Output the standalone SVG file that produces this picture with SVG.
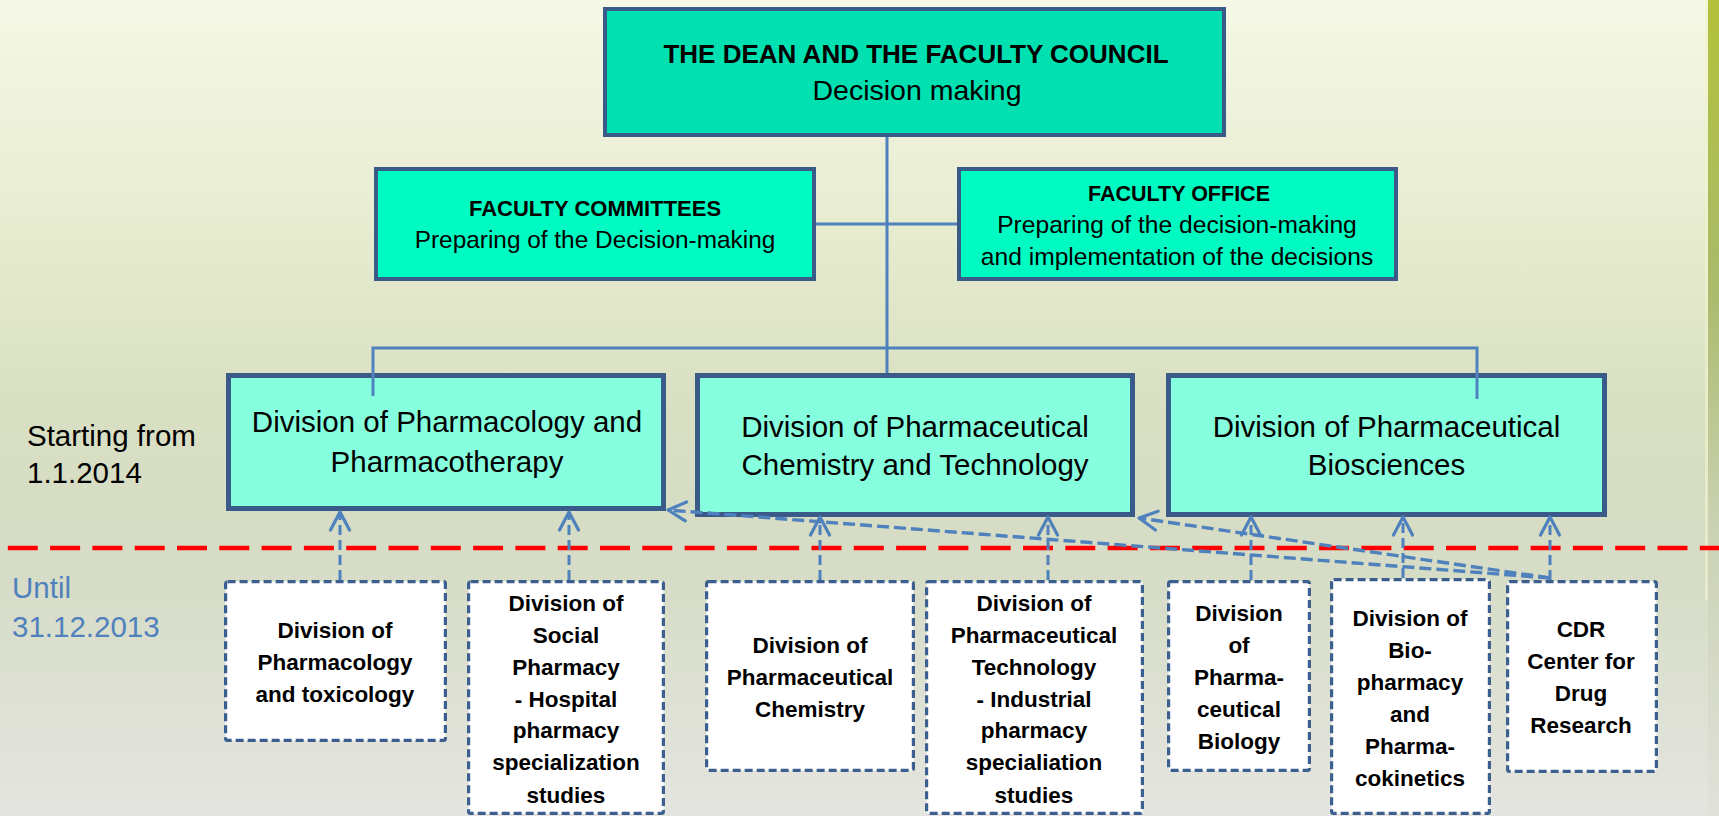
<svg xmlns="http://www.w3.org/2000/svg" width="1719" height="816" viewBox="0 0 1719 816">
<defs>
<linearGradient id="bg" x1="0" y1="0" x2="0" y2="1">
<stop offset="0" stop-color="#F5F8E6"/>
<stop offset="0.3" stop-color="#E6EBCF"/>
<stop offset="0.5" stop-color="#D8DFC2"/>
<stop offset="0.7" stop-color="#D6DCC6"/>
<stop offset="1" stop-color="#E4E5E0"/>
</linearGradient>
<linearGradient id="bar" x1="0" y1="0" x2="0" y2="1">
<stop offset="0" stop-color="#B2C23A"/>
<stop offset="0.35" stop-color="#AABA6A"/>
<stop offset="0.65" stop-color="#CBD2B4"/>
<stop offset="1" stop-color="#E0E2DA"/>
</linearGradient>
<marker id="arr" markerUnits="userSpaceOnUse" markerWidth="30" markerHeight="30" viewBox="-25 -15 30 30" refX="0" refY="0" orient="auto">
<path d="M-18,-9.5 L0,0 L-18,9.5" fill="none" stroke="#4F81BD" stroke-width="3.2" stroke-linecap="round" stroke-linejoin="round" stroke-dasharray="none"/>
</marker>
<style>
text{font-family:"Liberation Sans",Arial,sans-serif;fill:#000}
.b{font-weight:bold}
.top{fill:#00E0B0;stroke:#3A5A8A;stroke-width:4}
.mid{fill:#00FBC2;stroke:#3A5A8A;stroke-width:4}
.div{fill:#86FFDE;stroke:#3A5A8A;stroke-width:5}
.old{fill:#FFFFFF;stroke:#3C5F90;stroke-width:3.2;stroke-dasharray:8 4}
.solid{stroke:#4F81BD;stroke-width:3;fill:none}
.dash{stroke:#4F81BD;stroke-width:3;stroke-dasharray:10 5;fill:none;marker-end:url(#arr)}
.dashd{stroke:#4F81BD;stroke-width:3.4;stroke-dasharray:12 5;fill:none;marker-end:url(#arr)}
.small{font-size:22.5px;font-weight:bold}
.big{font-size:29.5px}
</style>
</defs>
<rect x="0" y="0" width="1719" height="816" fill="url(#bg)"/>
<rect x="1708" y="0" width="11" height="816" fill="url(#bar)"/>
<rect x="1705" y="0" width="3" height="600" fill="#F0F3CC" opacity="0.6"/>

<g id="labels">
<text class="big" x="27" y="446">Starting from</text>
<text class="big" x="27" y="483">1.1.2014</text>
<text class="big" x="12" y="598" style="fill:#4F81BD">Until</text>
<text class="big" x="12" y="637" style="fill:#4F81BD">31.12.2013</text>
</g>

<line id="divider" x1="-34.5" y1="548" x2="1719" y2="548" stroke="#FF0000" stroke-width="4.5" stroke-dasharray="30 12.3"/>

<g id="dean">
<rect class="top" x="605" y="9" width="619" height="126"/>
<text class="b" x="916" y="63" text-anchor="middle" font-size="26">THE DEAN AND THE FACULTY COUNCIL</text>
<text x="917" y="100" text-anchor="middle" font-size="28.5">Decision making</text>
</g>

<g id="committees">
<rect class="mid" x="376" y="169" width="438" height="110"/>
<text class="b" x="595" y="216" text-anchor="middle" font-size="22">FACULTY COMMITTEES</text>
<text x="595" y="248" text-anchor="middle" font-size="24.4">Preparing of the Decision-making</text>
</g>

<g id="office">
<rect class="mid" x="959" y="169" width="437" height="110"/>
<text class="b" x="1179" y="201" text-anchor="middle" font-size="21.5">FACULTY OFFICE</text>
<text x="1177" y="233" text-anchor="middle" font-size="24.6">Preparing of the decision-making</text>
<text x="1177" y="265" text-anchor="middle" font-size="24.6">and implementation of the decisions</text>
</g>

<g id="div-pharmacology">
<rect class="div" x="228.5" y="375.5" width="435" height="133"/>
<text class="big" x="447" y="432" text-anchor="middle">Division of Pharmacology and</text>
<text class="big" x="447" y="472" text-anchor="middle">Pharmacotherapy</text>
</g>

<g id="div-chemtech">
<rect class="div" x="697.5" y="375.5" width="435" height="139"/>
<text class="big" x="915" y="437" text-anchor="middle">Division of Pharmaceutical</text>
<text class="big" x="915" y="475" text-anchor="middle">Chemistry and Technology</text>
</g>

<g id="div-biosciences">
<rect class="div" x="1168.5" y="375.5" width="436" height="139"/>
<text class="big" x="1386.5" y="437" text-anchor="middle">Division of Pharmaceutical</text>
<text class="big" x="1386.5" y="475" text-anchor="middle">Biosciences</text>
</g>

<g id="old-pharmacology">
<rect class="old" x="225.6" y="581.6" width="219.8" height="158.8" rx="2"/>
<text class="small" x="335" y="638" text-anchor="middle">Division of</text>
<text class="small" x="335" y="670" text-anchor="middle">Pharmacology</text>
<text class="small" x="335" y="702" text-anchor="middle">and toxicology</text>
</g>

<g id="old-social">
<rect class="old" x="468.6" y="581.6" width="194.8" height="231.8" rx="2"/>
<text class="small" x="566" y="611" text-anchor="middle">Division of</text>
<text class="small" x="566" y="643" text-anchor="middle">Social</text>
<text class="small" x="566" y="675" text-anchor="middle">Pharmacy</text>
<text class="small" x="566" y="707" text-anchor="middle">- Hospital</text>
<text class="small" x="566" y="738" text-anchor="middle">pharmacy</text>
<text class="small" x="566" y="770" text-anchor="middle">specialization</text>
<text class="small" x="566" y="803" text-anchor="middle">studies</text>
</g>

<g id="old-chemistry">
<rect class="old" x="706.6" y="581.6" width="206.8" height="188.8" rx="2"/>
<text class="small" x="810" y="653" text-anchor="middle">Division of</text>
<text class="small" x="810" y="685" text-anchor="middle">Pharmaceutical</text>
<text class="small" x="810" y="717" text-anchor="middle">Chemistry</text>
</g>

<g id="old-technology">
<rect class="old" x="926.6" y="581.6" width="215.8" height="231.8" rx="2"/>
<text class="small" x="1034" y="611" text-anchor="middle">Division of</text>
<text class="small" x="1034" y="643" text-anchor="middle">Pharmaceutical</text>
<text class="small" x="1034" y="675" text-anchor="middle">Technology</text>
<text class="small" x="1034" y="707" text-anchor="middle">- Industrial</text>
<text class="small" x="1034" y="738" text-anchor="middle">pharmacy</text>
<text class="small" x="1034" y="770" text-anchor="middle">specialiation</text>
<text class="small" x="1034" y="803" text-anchor="middle">studies</text>
</g>

<g id="old-biology">
<rect class="old" x="1168.6" y="581.6" width="140.8" height="188.8" rx="2"/>
<text class="small" x="1239" y="621" text-anchor="middle">Division</text>
<text class="small" x="1239" y="653" text-anchor="middle">of</text>
<text class="small" x="1239" y="685" text-anchor="middle">Pharma-</text>
<text class="small" x="1239" y="717" text-anchor="middle">ceutical</text>
<text class="small" x="1239" y="749" text-anchor="middle">Biology</text>
</g>

<g id="old-biopharmacy">
<rect class="old" x="1331.6" y="579.6" width="157.8" height="233.8" rx="2"/>
<text class="small" x="1410" y="626" text-anchor="middle">Division of</text>
<text class="small" x="1410" y="658" text-anchor="middle">Bio-</text>
<text class="small" x="1410" y="690" text-anchor="middle">pharmacy</text>
<text class="small" x="1410" y="722" text-anchor="middle">and</text>
<text class="small" x="1410" y="754" text-anchor="middle">Pharma-</text>
<text class="small" x="1410" y="786" text-anchor="middle">cokinetics</text>
</g>

<g id="old-cdr">
<rect class="old" x="1507.6" y="581.6" width="148.8" height="189.8" rx="2"/>
<text class="small" x="1581" y="637" text-anchor="middle">CDR</text>
<text class="small" x="1581" y="669" text-anchor="middle">Center for</text>
<text class="small" x="1581" y="701" text-anchor="middle">Drug</text>
<text class="small" x="1581" y="733" text-anchor="middle">Research</text>
</g>

<g id="connectors">
<path class="solid" d="M887,137 L887,373"/>
<path class="solid" d="M816,224 L957,224"/>
<path class="solid" d="M373,396 L373,348 L1477,348 L1477,399"/>
<path class="dash" d="M340,580 L340,512"/>
<path class="dash" d="M569,580 L569,512"/>
<path class="dash" d="M820,580 L820,517"/>
<path class="dash" d="M1048,580 L1048,517"/>
<path class="dash" d="M1251,580 L1251,517"/>
<path class="dash" d="M1403,578 L1403,517"/>
<path class="dash" d="M1550,580 L1550,517"/>
<path class="dashd" d="M1550,578 L668,510"/>
<path class="dashd" d="M1550,578 L1139,518"/>
</g>
</svg>
